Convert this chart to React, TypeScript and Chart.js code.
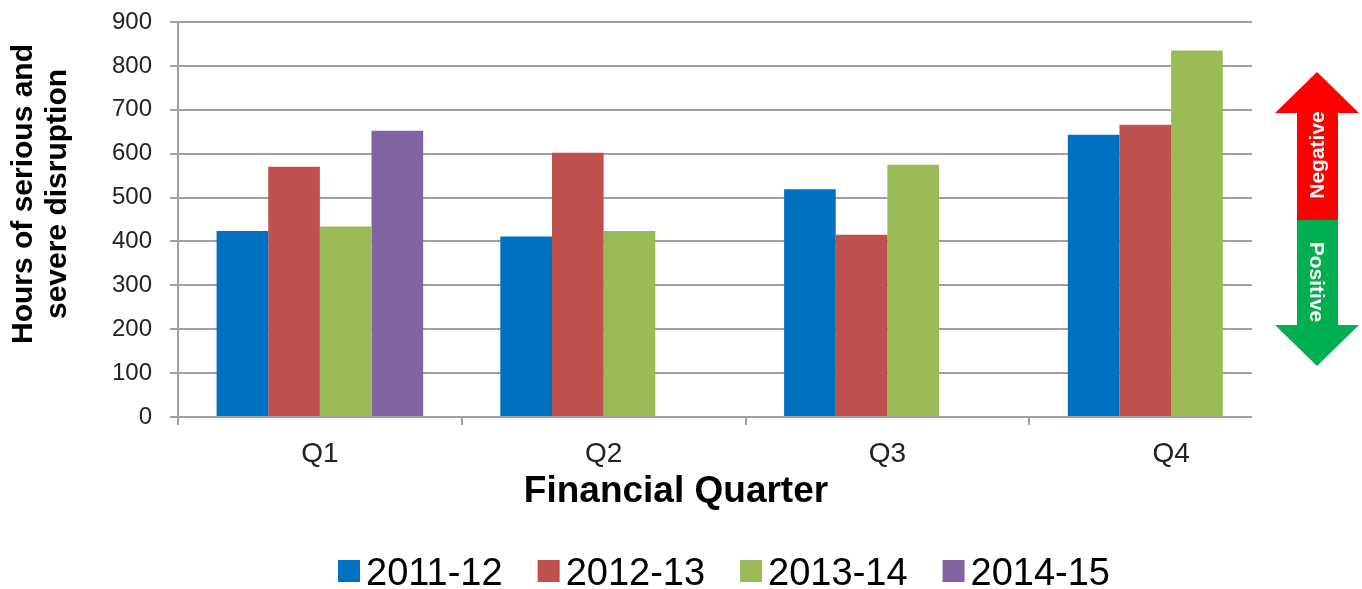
import React, { useEffect, useRef } from "react";
import { Chart, registerables } from "chart.js";

Chart.register(...registerables);

const categories = ["Q1", "Q2", "Q3", "Q4"];
const seriesLabels = ["2011-12", "2012-13", "2013-14", "2014-15"];
const values2011 = [424, 411, 519, 643];
const values2012 = [570, 602, 415, 666];
const values2013 = [434, 424, 575, 835];
const values2014: (number | null)[] = [652, null, null, null];
const seriesColors = ["#0070C0", "#C0504D", "#9BBB59", "#8064A2"];
const yTitleLines = ["Hours of serious and", "severe disruption"];
const xTitle = "Financial Quarter";
const arrowTop = "Negative";
const arrowBottom = "Positive";

const FONT = "'Liberation Sans', Arial, sans-serif";
const GRID = "#a0a0a0";

const decorPlugin = {
  id: "decor",
  afterDraw(chart: any) {
    const ctx = chart.ctx as CanvasRenderingContext2D;
    ctx.save();
    // white cover (arrow image background)
    ctx.fillStyle = "#ffffff";
    ctx.fillRect(1252, 0, 120, 440);

    // arrow
    const cx = 1317;
    const sL = 1297, sR = 1338, hL = 1275, hR = 1359;
    const tipT = 72, baseT = 113, mid = 220, baseB = 325, tipB = 366;
    ctx.fillStyle = "#FF0000";
    ctx.beginPath();
    ctx.moveTo(cx, tipT);
    ctx.lineTo(hR, baseT);
    ctx.lineTo(sR, baseT);
    ctx.lineTo(sR, mid);
    ctx.lineTo(sL, mid);
    ctx.lineTo(sL, baseT);
    ctx.lineTo(hL, baseT);
    ctx.closePath();
    ctx.fill();
    ctx.fillStyle = "#00B050";
    ctx.beginPath();
    ctx.moveTo(sL, mid);
    ctx.lineTo(sR, mid);
    ctx.lineTo(sR, baseB);
    ctx.lineTo(hR, baseB);
    ctx.lineTo(cx, tipB);
    ctx.lineTo(hL, baseB);
    ctx.lineTo(sL, baseB);
    ctx.closePath();
    ctx.fill();

    ctx.fillStyle = "#ffffff";
    ctx.font = `bold 21px ${FONT}`;
    ctx.textAlign = "center";
    ctx.textBaseline = "middle";
    ctx.save();
    ctx.translate(cx, 155);
    ctx.rotate(-Math.PI / 2);
    ctx.fillText(arrowTop, 0, 1);
    ctx.restore();
    ctx.save();
    ctx.translate(cx, 282);
    ctx.rotate(Math.PI / 2);
    ctx.fillText(arrowBottom, 0, 1);
    ctx.restore();

    // y title
    ctx.fillStyle = "#000000";
    ctx.font = `bold 30px ${FONT}`;
    ctx.textAlign = "center";
    ctx.textBaseline = "alphabetic";
    const baselines = [32, 66];
    yTitleLines.forEach((t, i) => {
      ctx.save();
      ctx.translate(baselines[i], 194);
      ctx.rotate(-Math.PI / 2);
      ctx.fillText(t, 0, 0);
      ctx.restore();
    });

    // x title
    ctx.font = `bold 37px ${FONT}`;
    ctx.textAlign = "center";
    ctx.fillText(xTitle, 676, 502);

    // legend
    ctx.font = `38px ${FONT}`;
    ctx.textAlign = "left";
    const box = 22, gapText = 6, gapItem = 35;
    const widths = chart.data.datasets.map((d: any) => box + gapText + ctx.measureText(d.label).width);
    const total = widths.reduce((a: number, b: number) => a + b, 0) + gapItem * (widths.length - 1);
    let x = 724 - total / 2;
    chart.data.datasets.forEach((d: any, i: number) => {
      ctx.fillStyle = d.backgroundColor;
      ctx.fillRect(x, 560, box, box);
      ctx.fillStyle = "#000000";
      ctx.fillText(d.label, x + box + gapText, 585);
      x += widths[i] + gapItem;
    });
    ctx.restore();
  },
};

export default function App() {
  const ref = useRef<HTMLCanvasElement | null>(null);
  useEffect(() => {
    if (!ref.current) return;
    const allValues = [values2011, values2012, values2013, values2014];
    const chart = new Chart(ref.current, {
      type: "bar",
      data: {
        labels: categories,
        datasets: seriesLabels.map((label, i) => ({
          label,
          data: allValues[i],
          backgroundColor: seriesColors[i],
          borderWidth: 0,
          categoryPercentage: 0.728,
          barPercentage: 1,
        })),
      },
      options: {
        animation: false,
        responsive: false,
        layout: { padding: { left: 0, right: 49, top: 22, bottom: 102 } },
        plugins: { legend: { display: false }, tooltip: { enabled: false }, title: { display: false } },
        scales: {
          x: {
            afterFit: (s: any) => { s.height = 70; s.paddingLeft = 0; s.paddingRight = 0; },
            grid: { drawOnChartArea: false, drawTicks: true, tickLength: 8, color: GRID, lineWidth: 2, offset: true },
            border: { display: true, color: GRID, width: 2 },
            ticks: { color: "#222", font: { family: FONT, size: 28 }, padding: 12 },
          },
          y: {
            min: 0,
            max: 900,
            afterFit: (s: any) => { s.width = 178; s.paddingTop = 0; s.paddingBottom = 0; },
            grid: { drawOnChartArea: true, drawTicks: true, tickLength: 8, color: GRID, lineWidth: 2 },
            border: { display: true, color: GRID, width: 2 },
            ticks: { stepSize: 100, color: "#222", font: { family: FONT, size: 24 }, padding: 18 },
          },
        },
      },
      plugins: [decorPlugin],
    });
    return () => chart.destroy();
  }, []);
  return (
    <div style={{ position: "fixed", left: 0, top: 0, width: 1362, height: 589, background: "#fff" }}>
      <canvas ref={ref} width={1362} height={589} style={{ display: "block" }} />
    </div>
  );
}
